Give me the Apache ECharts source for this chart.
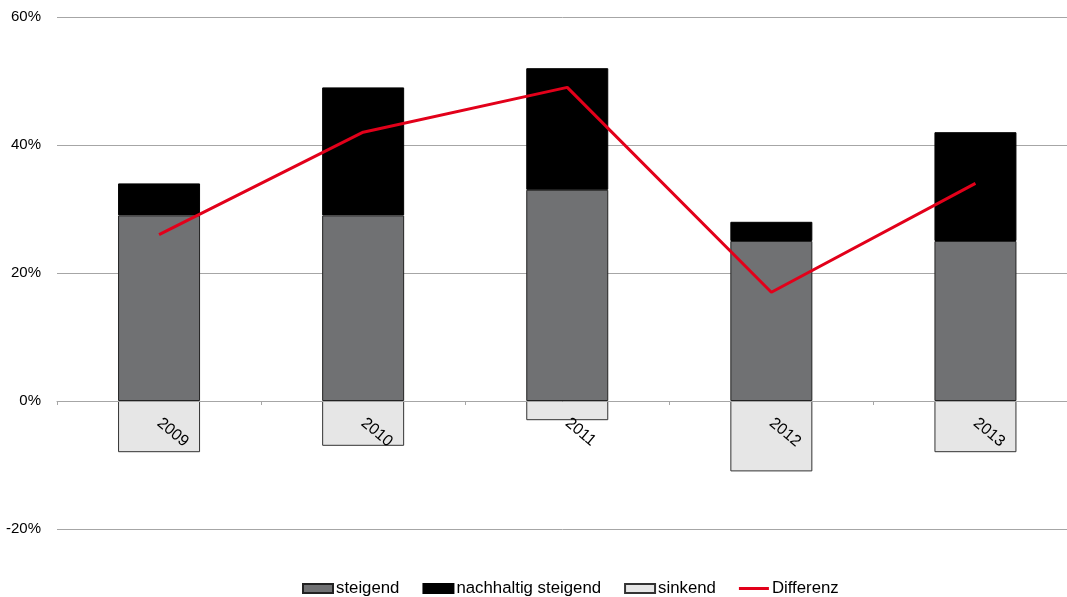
<!DOCTYPE html>
<html>
<head>
<meta charset="utf-8">
<script src="https://cdn.jsdelivr.net/npm/echarts@6/dist/echarts.min.js"></script>
<style>html,body{margin:0;padding:0;background:#fff;}#c{width:1067px;height:597px;}</style>
</head>
<body>
<div id="c"></div>
<script>
const categories = ['2009', '2010', '2011', '2012', '2013'];
const steigend = [29, 29, 33, 25, 25];
const nachhaltig = [5, 20, 19, 3, 17];
const sinkend = [-8, -7, -3, -11, -8];
const differenz = [26, 42, 49, 17, 34];
const yTicks = { min: -20, max: 60, interval: 20 };

const font = 'Liberation Sans, Arial, sans-serif';
const chart = echarts.init(document.getElementById('c'));
chart.setOption({
  animation: false,
  textStyle: { fontFamily: font },
  grid: { left: 57, width: 1020.5, top: 17, bottom: 68, containLabel: false, outerBoundsMode: 'none' },
  legend: {
    top: 575, left: 297,
    itemWidth: 30, itemHeight: 9, itemGap: 23,
    textStyle: { fontSize: 16.8, color: '#000', fontFamily: font, padding: [0, 0, 0, -2] },
    data: [
      { name: 'steigend', icon: 'rect' },
      { name: 'nachhaltig steigend', icon: 'rect' },
      { name: 'sinkend', icon: 'rect' },
      { name: 'Differenz', icon: 'path://M0,0 H30 V3 H0 Z' }
    ]
  },
  xAxis: {
    type: 'category', data: categories, z: 10, offset: -128,
    axisLine: { onZero: false, lineStyle: { color: '#a6a6a6', width: 1 } },
    axisTick: { show: true, length: 4, inside: false, lineStyle: { color: '#a6a6a6' } },
    axisLabel: { rotate: -40, margin: 20, fontSize: 16, color: '#000', fontFamily: font }
  },
  yAxis: {
    type: 'value', min: yTicks.min, max: yTicks.max, interval: yTicks.interval,
    axisLine: { show: false }, axisTick: { show: false },
    axisLabel: { formatter: '{value}%', fontSize: 15, color: '#000', margin: 16, fontFamily: font },
    splitLine: { lineStyle: { color: '#a6a6a6', width: 1 } }
  },
  series: [
    { name: 'steigend', type: 'bar', stack: 's', data: steigend, barWidth: 82,
      itemStyle: { color: '#707173', borderColor: '#222', borderWidth: 1 } },
    { name: 'nachhaltig steigend', type: 'bar', stack: 's', data: nachhaltig, barWidth: 82,
      itemStyle: { color: '#000', borderColor: '#000', borderWidth: 1 } },
    { name: 'sinkend', type: 'bar', stack: 's', data: sinkend, barWidth: 82,
      itemStyle: { color: '#e6e6e6', borderColor: '#333', borderWidth: 1 } },
    { name: 'Differenz', type: 'line', data: differenz, symbol: 'none', z: 5,
      lineStyle: { color: '#e2001a', width: 3 }, itemStyle: { color: '#e2001a' } }
  ]
});
</script>
</body>
</html>
